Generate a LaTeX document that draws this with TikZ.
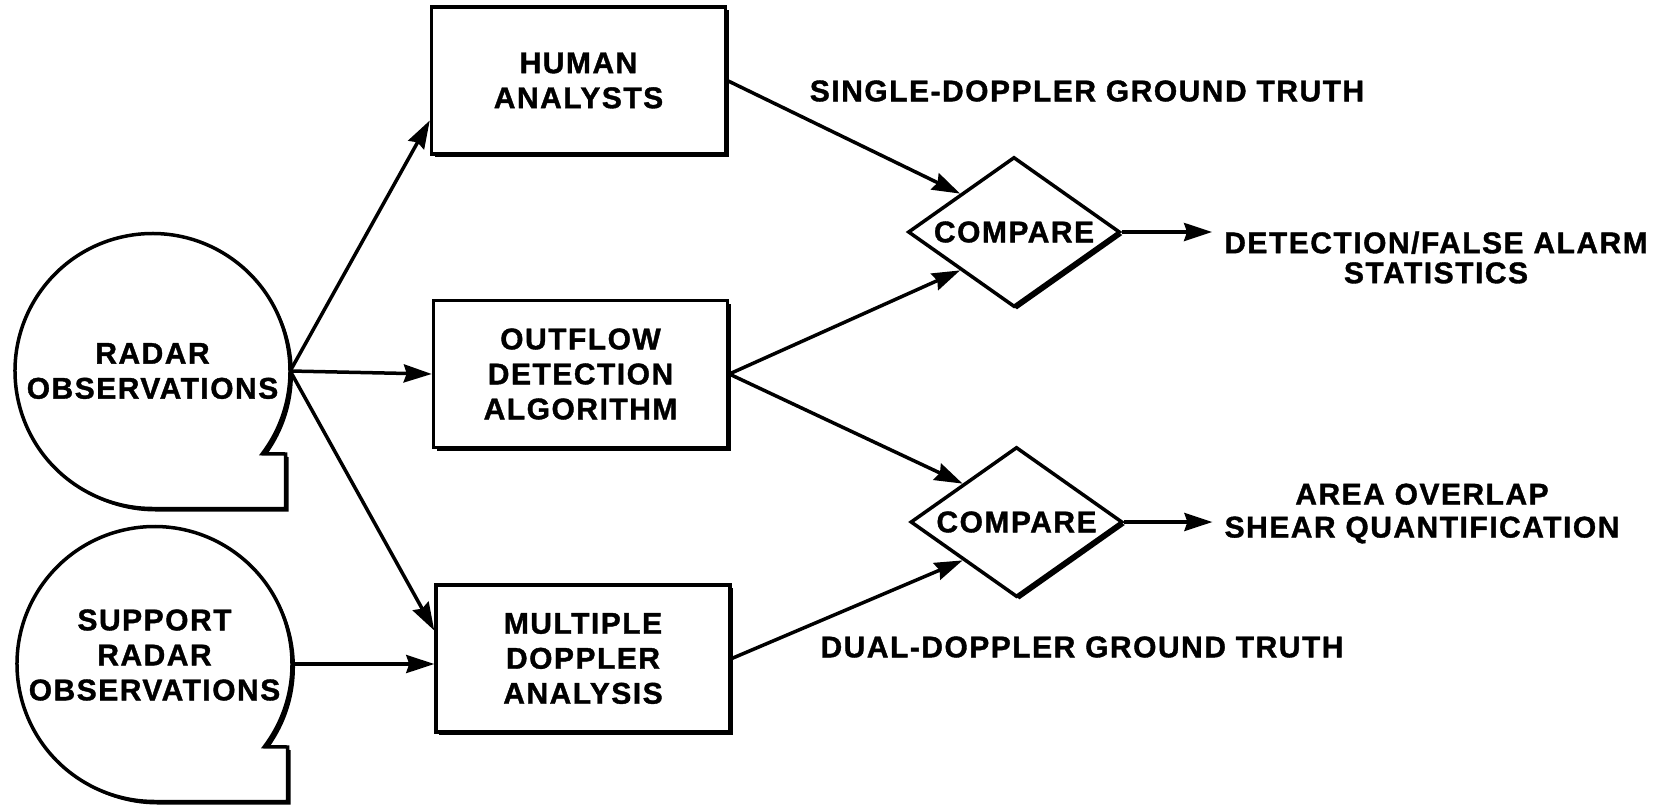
\documentclass[tikz,border=0pt]{standalone}
\usepackage{fontspec}
\setmainfont{Liberation Sans}[LetterSpace=5, BoldFeatures={FakeBold=1.2}]
\usetikzlibrary{shapes.geometric,shadows,arrows.meta,calc}

\tikzset{
  x=1pt, y=1pt,
  every node/.style={font=\bfseries\fontsize{30}{35}\selectfont, align=center},
  shade3/.style={drop shadow={shadow xshift=3pt, shadow yshift=-3pt, opacity=1, fill=black}},
  proc/.style={draw, line width=3.5pt, fill=white, minimum width=294pt,
    minimum height=147pt, inner sep=0pt, shade3},
  cmp/.style={draw, shape=diamond, line width=3.5pt, fill=white, aspect=1.41,
    minimum width=212pt, minimum height=150pt, inner sep=0pt, shade3},
  flow/.style={line width=3.5pt, -{Stealth[length=28pt,width=18pt,inset=3pt]}},
  tapeline/.style={draw, line width=3.5pt, fill=white, line join=miter, shade3},
  result/.style={inner ysep=0pt, inner xsep=12pt},
}

% magnetic-tape storage symbol around a centre coordinate
\newcommand\tapeshape[1]{%
  \path[tapeline] ([shift={(-37:137.5)}]#1)
    arc[start angle=-37, end angle=270, radius=137.5]
    -- ([shift={(133,-137.5)}]#1) -- ([shift={(133,-83)}]#1) -- cycle;}

\begin{document}
\begin{tikzpicture}
\useasboundingbox (0,0) rectangle (1674,-809);

% data sources
\coordinate (radarc) at (152.5,-371);
\coordinate (supportc) at (154.5,-664);
\tapeshape{radarc}
\tapeshape{supportc}
\node[circle, minimum size=275pt, inner sep=0pt] (radar) at (radarc) {RADAR\\OBSERVATIONS};
\node[circle, minimum size=275pt, inner sep=0pt] (support) at (supportc) {};
\node (supporttext) at ([yshift=9]supportc) {SUPPORT\\RADAR\\OBSERVATIONS};

% processing boxes
\node[proc] (human) at (578.5,-80.5) {HUMAN\\ANALYSTS};
\node[proc] (outflow) at (580.5,-374) {OUTFLOW\\DETECTION\\ALGORITHM};
\node[proc] (multi) at (583,-658.5) {MULTIPLE\\DOPPLER\\ANALYSIS};

% comparisons
\node[cmp] (cmpA) at (1014,-232) {COMPARE};
\node[cmp] (cmpB) at (1016.5,-522) {COMPARE};

% outputs and annotations
\node[result, font=\bfseries\fontsize{30}{30}\selectfont] (stats) at (1436,-257.5) {DETECTION/FALSE ALARM\\STATISTICS};
\node[result, font=\bfseries\fontsize{30}{33}\selectfont] (shear) at (1422,-513.5) {AREA OVERLAP\\SHEAR QUANTIFICATION};
\node (single) at (1087,-91) {SINGLE-DOPPLER GROUND TRUTH};
\node (dual) at (1082,-647) {DUAL-DOPPLER GROUND TRUTH};

% connectors
\draw[flow] (radar.east) -- ($(human.west)+(0,-40)$);
\draw[flow] (radar.east) -- (outflow.west);
\draw[flow] (radar.east) -- ($(multi.west)+(0,28)$);
\draw[flow] (support.east) -- (support.east -| multi.west);
\draw[flow] (human.east) -- (cmpA.north west);
\draw[flow] (outflow.east) -- (cmpA.south west);
\draw[flow] (outflow.east) -- (cmpB.north west);
\draw[flow] (multi.east) -- (cmpB.south west);
\draw[flow] (cmpA.east) -- (cmpA.east -| stats.west);
\draw[flow] (cmpB.east) -- (cmpB.east -| shear.west);
\end{tikzpicture}
\end{document}
